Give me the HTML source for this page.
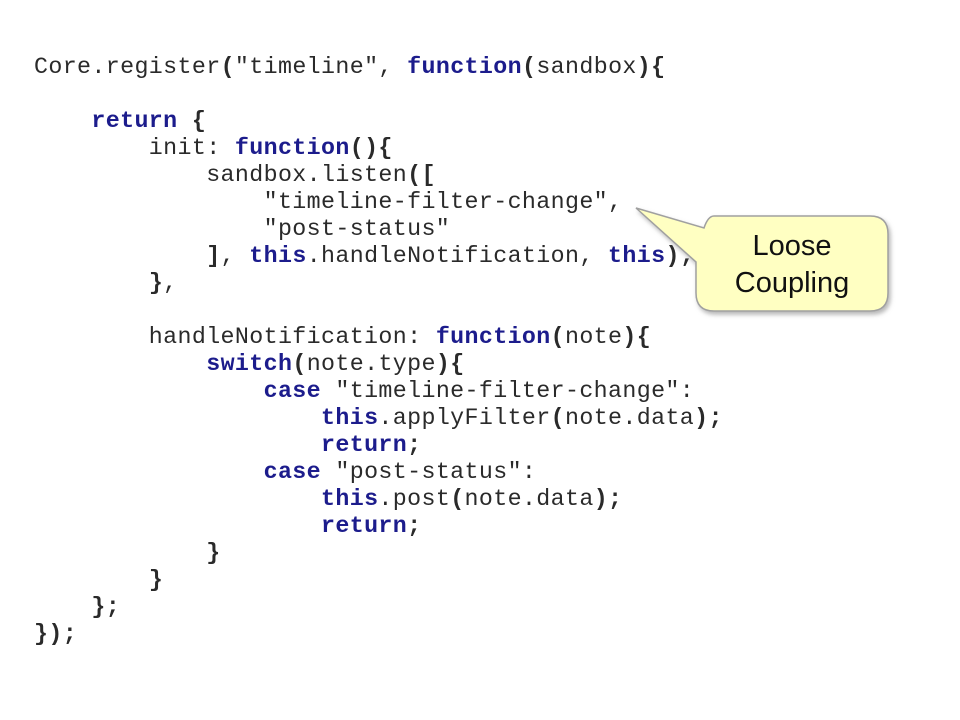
<!DOCTYPE html>
<html><head><meta charset="utf-8"><style>
body{margin:0;width:960px;height:720px;background:#fff;position:relative;overflow:hidden}
pre{position:absolute;left:34px;top:54px;margin:0;font-family:"Liberation Mono",monospace;font-size:23.3px;letter-spacing:0.37px;line-height:27px;color:#2a2a2a}
b{color:#1c1c8c}
i{font-style:normal;font-weight:bold}
.t{position:absolute;left:696px;width:192px;text-align:center;font-family:"Liberation Sans",sans-serif;font-size:29px;color:#111}
</style></head><body>
<pre>Core.register<i>(</i>"timeline", <b>function</b><i>(</i>sandbox<i>){</i>

    <b>return</b> <i>{</i>
        init: <b>function</b><i>(){</i>
            sandbox.listen<i>([</i>
                "timeline-filter-change",
                "post-status"
            <i>]</i>, <b>this</b>.handleNotification, <b>this</b><i>);</i>
        <i>}</i>,

        handleNotification: <b>function</b><i>(</i>note<i>){</i>
            <b>switch</b><i>(</i>note.type<i>){</i>
                <b>case</b> "timeline-filter-change":
                    <b>this</b>.applyFilter<i>(</i>note.data<i>);</i>
                    <b>return</b><i>;</i>
                <b>case</b> "post-status":
                    <b>this</b>.post<i>(</i>note.data<i>);</i>
                    <b>return</b><i>;</i>
            <i>}</i>
        <i>}</i>
    <i>};</i>
<i>});</i></pre>
<svg width="960" height="720" style="position:absolute;left:0;top:0">
<defs><filter id="s"><feDropShadow dx="2" dy="3" stdDeviation="2" flood-color="#888" flood-opacity="0.6"/></filter></defs>
<path d="M714,216 H870 Q888,216 888,234 V293 Q888,311 870,311 H714 Q696,311 696,293 V262 L636,208 L704,228 Q708,216 714,216 Z" fill="#ffffc2" stroke="#a0a0a0" stroke-width="1.5" filter="url(#s)"/>
</svg>
<div class="t" style="top:230px">Loose</div>
<div class="t" style="top:267px">Coupling</div>
</body></html>
